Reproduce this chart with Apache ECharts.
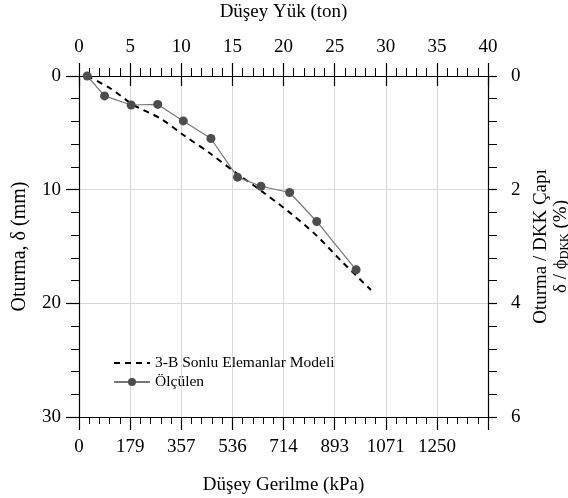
<!DOCTYPE html>
<html>
<head>
<meta charset="utf-8">
<script src="https://cdn.jsdelivr.net/npm/echarts@6/dist/echarts.min.js"></script>
<style>
html, body { margin: 0; padding: 0; background: #fff; }
#chart { width: 568px; height: 498px; }
</style>
</head>
<body>
<div id="chart"></div>
<script>
// yük (ton) ve oturma (mm) değerleri
var modelLoad = [0.8, 3.05, 5.34, 7.93, 10.21, 12.81, 15.41, 17.82, 20.59, 23.19, 25.79, 28.56];
var modelSettle = [0, 1.08, 2.55, 3.72, 5.19, 6.8, 8.56, 10.1, 12.0, 14.0, 16.4, 18.82];

var measLoad = [0.8, 2.5, 5.1, 7.7, 10.2, 12.9, 15.5, 17.8, 20.6, 23.25, 27.1];
var measSettle = [0, 1.75, 2.55, 2.5, 3.95, 5.5, 8.9, 9.7, 10.25, 12.8, 17.05];

// alt eksen etiketleri (kPa), her 5 ton için
var stressLabels = ['0', '179', '357', '536', '714', '893', '1071', '1250', ''];

var seriesNames = ['3-B Sonlu Elemanlar Modeli', 'Ölçülen'];

function pairs(xs, ys) {
    var out = [];
    for (var i = 0; i < xs.length; i++) out.push([xs[i], ys[i]]);
    return out;
}

var font = 'Liberation Serif';
var black = '#000';

var chart = echarts.init(document.getElementById('chart'));
var option = {
    animation: false,
    textStyle: { fontFamily: font, color: black },
    grid: { left: 79, right: 80, top: 76, bottom: 81, outerBoundsMode: 'none' },
    legend: {
        orient: 'vertical',
        left: 108,
        top: 350,
        itemWidth: 36,
        itemHeight: 10,
        itemGap: 3,
        data: [
            { name: seriesNames[0], itemStyle: { opacity: 0 } },
            { name: seriesNames[1] }
        ],
        textStyle: { fontSize: 15.5, fontFamily: font, color: black }
    },
    xAxis: [
        {
            type: 'value', position: 'bottom', min: 0, max: 40, interval: 5,
            name: 'Düşey Gerilme (kPa)', nameLocation: 'middle', nameGap: 59,
            nameTextStyle: { fontSize: 19, color: black, fontFamily: font },
            axisLine: { onZero: false, lineStyle: { color: black, width: 1.2 } },
            axisTick: { length: 13, lineStyle: { color: black, width: 1.2 } },
            minorTick: { show: true, splitNumber: 5, length: 7, lineStyle: { color: black } },
            axisLabel: {
                fontSize: 19, color: black, margin: 21, fontFamily: font,
                formatter: function (v) { return stressLabels[Math.round(v / 5)]; }
            },
            splitLine: { show: true, lineStyle: { color: '#d8d8d8', width: 1 } }
        },
        {
            type: 'value', position: 'top', min: 0, max: 40, interval: 5,
            name: 'Düşey Yük (ton)', nameLocation: 'middle', nameGap: 54,
            nameTextStyle: { fontSize: 19, color: black, fontFamily: font },
            axisLine: { onZero: false, lineStyle: { color: black, width: 1.2 } },
            axisTick: { length: 13, lineStyle: { color: black, width: 1.2 } },
            minorTick: { show: true, splitNumber: 5, length: 8, lineStyle: { color: black } },
            axisLabel: { fontSize: 19, color: black, margin: 19, fontFamily: font },
            splitLine: { show: false }
        },
        {
            // üst eksende içe doğru uzanan ana çentikler
            type: 'value', position: 'top', min: 0, max: 40, interval: 5,
            axisLine: { show: false, onZero: false },
            axisTick: { inside: true, length: 10, lineStyle: { color: black, width: 1.2 } },
            axisLabel: { show: false },
            splitLine: { show: false }
        }
    ],
    yAxis: [
        {
            type: 'value', position: 'left', min: 0, max: 30, interval: 10, inverse: true,
            name: 'Oturma, δ (mm)', nameLocation: 'middle', nameGap: 49, nameRotate: 90,
            nameTextStyle: { fontSize: 20, color: black, fontFamily: font },
            axisLine: { onZero: false, lineStyle: { color: black, width: 1.2 } },
            axisTick: { length: 13, lineStyle: { color: black, width: 1.2 } },
            minorTick: { show: true, splitNumber: 5, length: 8, lineStyle: { color: black } },
            axisLabel: { fontSize: 19, color: black, margin: 18, fontFamily: font },
            splitLine: { show: true, lineStyle: { color: '#d8d8d8', width: 1 } }
        },
        {
            type: 'value', position: 'right', min: 0, max: 6, interval: 2, inverse: true,
            name: '{a|Oturma / DKK Çapı}\n{a|δ / ϕ}{s|DKK}{a| (%)}',
            nameLocation: 'middle', nameGap: 27, nameRotate: 90,
            nameTextStyle: {
                rich: {
                    a: { fontSize: 19, color: black, fontFamily: font, lineHeight: 20 },
                    s: { fontSize: 12, color: black, fontFamily: font, lineHeight: 20, verticalAlign: 'bottom' }
                }
            },
            axisLine: { onZero: false, lineStyle: { color: black, width: 1.2 } },
            axisTick: { length: 9, lineStyle: { color: black, width: 1.2 } },
            minorTick: { show: true, splitNumber: 5, length: 9, lineStyle: { color: black } },
            axisLabel: { fontSize: 19, color: black, margin: 23, fontFamily: font },
            splitLine: { show: false }
        }
    ],
    series: [
        {
            name: seriesNames[0],
            type: 'line',
            xAxisIndex: 0, yAxisIndex: 0,
            data: pairs(modelLoad, modelSettle),
            symbol: 'none',
            smooth: 0.3,
            lineStyle: { color: black, width: 2, type: [6, 5] },
            itemStyle: { color: black },
            z: 3
        },
        {
            name: seriesNames[1],
            type: 'line',
            xAxisIndex: 0, yAxisIndex: 0,
            data: pairs(measLoad, measSettle),
            symbol: 'circle',
            symbolSize: 9,
            lineStyle: { color: '#777', width: 1.2 },
            itemStyle: { color: '#4d4d4d' },
            z: 4
        }
    ]
};
chart.setOption(option);
</script>
</body>
</html>
